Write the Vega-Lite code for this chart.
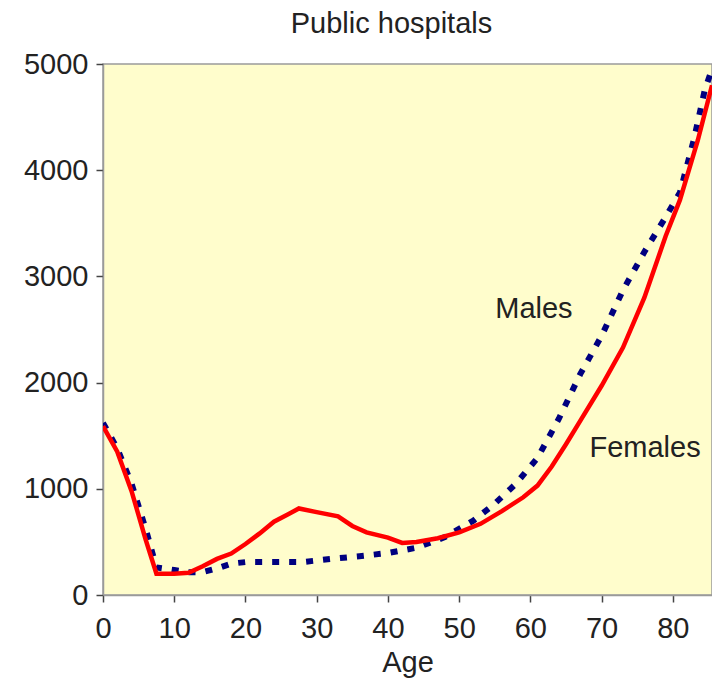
{
  "$schema": "https://vega.github.io/schema/vega-lite/v6.json",
  "width": 609,
  "height": 531,
  "autosize": {"type": "none"},
  "padding": {"left": 103, "top": 64, "right": 0, "bottom": 88},
  "background": "white",
  "config": {
    "font": "Liberation Sans",
    "view": {"fill": "#FFFDCC", "stroke": "#9a9a9a", "strokeWidth": 1.5}
  },
  "title": {
    "text": "Public hospitals",
    "font": "Liberation Sans",
    "fontSize": 29,
    "fontWeight": "normal",
    "color": "#222222",
    "frame": "group",
    "anchor": "middle",
    "baseline": "alphabetic",
    "offset": -12,
    "dx": -16
  },
  "datasets": {
    "series": [
      {"sex": "Males", "age": 0, "value": 1620},
      {"sex": "Males", "age": 2, "value": 1380},
      {"sex": "Males", "age": 4, "value": 1050},
      {"sex": "Males", "age": 6, "value": 620},
      {"sex": "Males", "age": 7.5, "value": 260},
      {"sex": "Males", "age": 10, "value": 235},
      {"sex": "Males", "age": 12, "value": 215},
      {"sex": "Males", "age": 14, "value": 215},
      {"sex": "Males", "age": 16, "value": 250},
      {"sex": "Males", "age": 18, "value": 295},
      {"sex": "Males", "age": 20, "value": 310},
      {"sex": "Males", "age": 24, "value": 310},
      {"sex": "Males", "age": 28, "value": 310},
      {"sex": "Males", "age": 32, "value": 340},
      {"sex": "Males", "age": 36, "value": 365},
      {"sex": "Males", "age": 40, "value": 395},
      {"sex": "Males", "age": 44, "value": 445},
      {"sex": "Males", "age": 48, "value": 545},
      {"sex": "Males", "age": 52, "value": 700},
      {"sex": "Males", "age": 55, "value": 860},
      {"sex": "Males", "age": 58, "value": 1050},
      {"sex": "Males", "age": 61, "value": 1290},
      {"sex": "Males", "age": 64, "value": 1660},
      {"sex": "Males", "age": 67, "value": 2080},
      {"sex": "Males", "age": 70, "value": 2440},
      {"sex": "Males", "age": 73, "value": 2870},
      {"sex": "Males", "age": 76, "value": 3230},
      {"sex": "Males", "age": 79, "value": 3560},
      {"sex": "Males", "age": 81, "value": 3790},
      {"sex": "Males", "age": 83, "value": 4300},
      {"sex": "Males", "age": 84.5, "value": 4760},
      {"sex": "Males", "age": 85.5, "value": 4950},
      {"sex": "Females", "age": 0, "value": 1590},
      {"sex": "Females", "age": 2, "value": 1350},
      {"sex": "Females", "age": 4, "value": 980},
      {"sex": "Females", "age": 6, "value": 520},
      {"sex": "Females", "age": 7.5, "value": 200},
      {"sex": "Females", "age": 10, "value": 200},
      {"sex": "Females", "age": 12, "value": 210},
      {"sex": "Females", "age": 14, "value": 270},
      {"sex": "Females", "age": 16, "value": 340},
      {"sex": "Females", "age": 18, "value": 390},
      {"sex": "Females", "age": 20, "value": 480},
      {"sex": "Females", "age": 22, "value": 580},
      {"sex": "Females", "age": 24, "value": 690},
      {"sex": "Females", "age": 26, "value": 760},
      {"sex": "Females", "age": 27.5, "value": 815},
      {"sex": "Females", "age": 30, "value": 780},
      {"sex": "Females", "age": 33, "value": 740},
      {"sex": "Females", "age": 35, "value": 650},
      {"sex": "Females", "age": 37, "value": 590},
      {"sex": "Females", "age": 40, "value": 540},
      {"sex": "Females", "age": 42, "value": 490},
      {"sex": "Females", "age": 44, "value": 500},
      {"sex": "Females", "age": 47, "value": 535},
      {"sex": "Females", "age": 50, "value": 590},
      {"sex": "Females", "age": 53, "value": 670},
      {"sex": "Females", "age": 56, "value": 790},
      {"sex": "Females", "age": 59, "value": 920},
      {"sex": "Females", "age": 61, "value": 1030},
      {"sex": "Females", "age": 63, "value": 1210},
      {"sex": "Females", "age": 65, "value": 1420},
      {"sex": "Females", "age": 67, "value": 1640},
      {"sex": "Females", "age": 70, "value": 1970},
      {"sex": "Females", "age": 73, "value": 2330},
      {"sex": "Females", "age": 76, "value": 2800},
      {"sex": "Females", "age": 79, "value": 3380},
      {"sex": "Females", "age": 81, "value": 3720},
      {"sex": "Females", "age": 83.5, "value": 4280},
      {"sex": "Females", "age": 85.5, "value": 4800}
    ],
    "labels": [
      {"label": "Males", "age": 60.5, "value": 2693},
      {"label": "Females", "age": 76.1, "value": 1384}
    ]
  },
  "layer": [
    {
      "data": {"name": "series"},
      "transform": [{"filter": "datum.sex === 'Males'"}],
      "mark": {"type": "line", "color": "#000080", "strokeWidth": 6, "strokeDash": [7, 10], "strokeCap": "butt", "clip": true},
      "encoding": {
        "x": {
          "field": "age", "type": "quantitative",
          "scale": {"domain": [0, 85.5], "nice": false, "zero": false},
          "axis": {
            "title": "Age",
            "titleFont": "Liberation Sans", "titleFontSize": 29, "titleFontWeight": "normal", "titleColor": "#222222",
            "titlePadding": 5,
            "values": [0, 5, 10, 15, 20, 25, 30, 35, 40, 45, 50, 55, 60, 65, 70, 75, 80, 85],
            "labelExpr": "datum.value % 10 === 0 ? datum.label : ''",
            "labelFont": "Liberation Sans", "labelFontSize": 29, "labelColor": "#222222",
            "labelPadding": 12,
            "labelFlush": false,
            "labelOverlap": false,
            "tickSize": 7, "tickColor": "#444444", "tickWidth": 1.5,
            "domainColor": "#9a9a9a", "domainWidth": 1.5,
            "grid": false
          }
        },
        "y": {
          "field": "value", "type": "quantitative",
          "scale": {"domain": [0, 5000], "nice": false},
          "axis": {
            "title": null,
            "values": [0, 1000, 2000, 3000, 4000, 5000],
            "format": "d",
            "labelFont": "Liberation Sans", "labelFontSize": 29, "labelColor": "#222222",
            "labelPadding": 8,
            "labelFlush": false,
            "tickSize": 7, "tickColor": "#444444", "tickWidth": 1.5,
            "domainColor": "#9a9a9a", "domainWidth": 1.5,
            "grid": false
          }
        }
      }
    },
    {
      "data": {"name": "series"},
      "transform": [{"filter": "datum.sex === 'Females'"}],
      "mark": {"type": "line", "color": "#FF0000", "strokeWidth": 4.5, "clip": true},
      "encoding": {
        "x": {"field": "age", "type": "quantitative"},
        "y": {"field": "value", "type": "quantitative"}
      }
    },
    {
      "data": {"name": "labels"},
      "mark": {"type": "text", "font": "Liberation Sans", "fontSize": 29, "color": "#222222", "align": "center", "baseline": "middle"},
      "encoding": {
        "x": {"field": "age", "type": "quantitative"},
        "y": {"field": "value", "type": "quantitative"},
        "text": {"field": "label"}
      }
    }
  ]
}
